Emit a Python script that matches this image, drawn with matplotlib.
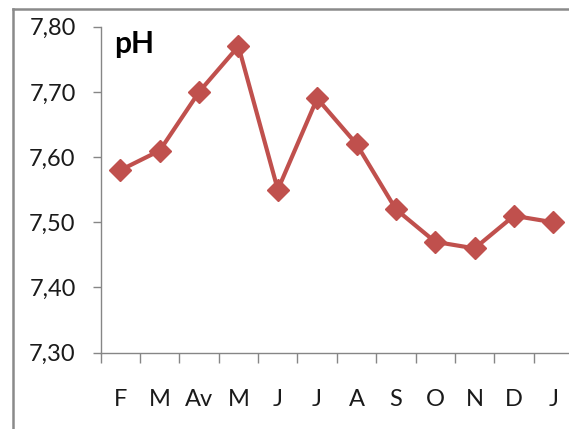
import matplotlib
matplotlib.use("Agg")
import matplotlib.pyplot as plt
from matplotlib.lines import Line2D
from matplotlib.ticker import FixedLocator, FuncFormatter

# mois et valeurs de pH
months = ['F', 'M', 'Av', 'M', 'J', 'J', 'A', 'S', 'O', 'N', 'D', 'J']
ph = [7.58, 7.61, 7.70, 7.77, 7.55, 7.69, 7.62, 7.52, 7.47, 7.46, 7.51, 7.50]
yticks = [7.30, 7.40, 7.50, 7.60, 7.70, 7.80]

plt.rcParams['font.family'] = ['Lato', 'DejaVu Sans']
grey = '#868686'
red = '#C0504D'

W, H = 569, 429
fig = plt.figure(figsize=(W / 100, H / 100), dpi=100)
ax = fig.add_axes([100.7 / W, 1 - 352.7 / H, 472.3 / W, 326.0 / H])

x = list(range(len(months)))
ax.plot(x, ph, color=red, lw=3, marker='D', ms=11, mfc=red, mec=red, clip_on=False)

ax.set_xlim(-0.5, len(months) - 0.5)
ax.set_ylim(7.30, 7.80)

ax.set_xticks(x)
ax.set_xticklabels(months)
ax.xaxis.set_minor_locator(FixedLocator([i - 0.5 for i in range(len(months) + 1)]))
ax.tick_params(axis='x', which='major', length=0, pad=26, labelsize=17, labelcolor='#1a1a1a')
ax.tick_params(axis='x', which='minor', length=7.5, width=1.0, color=grey)

ax.set_yticks(yticks)
ax.yaxis.set_major_formatter(FuncFormatter(lambda v, p: ('%.2f' % v).replace('.', ',')))
ax.tick_params(axis='y', length=6, width=1.0, color=grey, pad=12, labelsize=17, labelcolor='#1a1a1a')

for s in ['top', 'right']:
    ax.spines[s].set_visible(False)
for s in ['left', 'bottom']:
    ax.spines[s].set_color(grey)
    ax.spines[s].set_linewidth(1.0)

ax.text(0.029, 0.99, 'pH', transform=ax.transAxes, fontsize=21.5, fontweight='bold',
        va='top', ha='left', color='black')

# cadre gris du graphique (partiellement coupé)
fig.add_artist(Line2D([13 / W, 1], [1 - 9 / H, 1 - 9 / H], transform=fig.transFigure,
                      color='#8a8a8a', lw=1.8))
fig.add_artist(Line2D([13 / W, 13 / W], [0, 1 - 9 / H], transform=fig.transFigure,
                      color='#8a8a8a', lw=1.8))

fig.savefig('out.png', dpi=100)
